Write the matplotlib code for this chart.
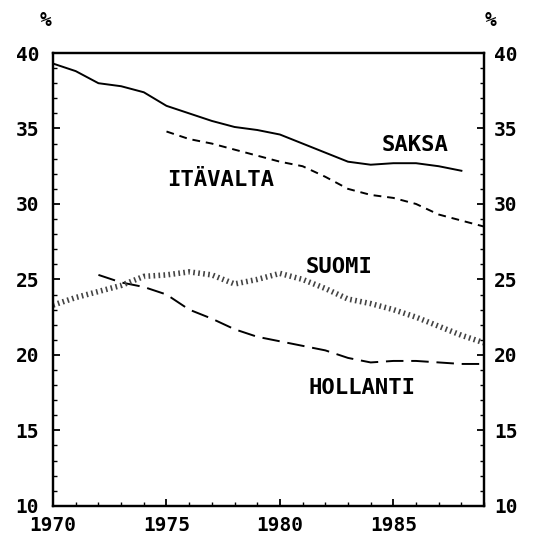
import matplotlib.pyplot as plt
from matplotlib.ticker import MultipleLocator

# Data (share, %)
saksa_years = list(range(1970, 1989))
saksa = [39.3, 38.8, 38.0, 37.8, 37.4, 36.5, 36.0, 35.5, 35.1, 34.9, 34.6,
         34.0, 33.4, 32.8, 32.6, 32.7, 32.7, 32.5, 32.2]

itavalta_years = list(range(1975, 1990))
itavalta = [34.8, 34.3, 34.0, 33.6, 33.2, 32.8, 32.5, 31.8, 31.0, 30.6,
            30.4, 30.0, 29.3, 28.9, 28.5]

suomi_years = list(range(1970, 1990))
suomi = [23.3, 23.8, 24.2, 24.6, 25.2, 25.3, 25.5, 25.3, 24.7, 25.0, 25.4,
         25.0, 24.4, 23.7, 23.4, 23.0, 22.5, 21.9, 21.3, 20.8]

hollanti_years = list(range(1972, 1990))
hollanti = [25.3, 24.8, 24.5, 24.0, 23.0, 22.4, 21.7, 21.2, 20.9, 20.6,
            20.3, 19.8, 19.5, 19.6, 19.6, 19.5, 19.4, 19.4]

labels = {'SAKSA': (1985.95, 33.9), 'ITÄVALTA': (1977.4, 31.6),
          'SUOMI': (1982.6, 25.8), 'HOLLANTI': (1983.6, 17.8)}

font = 'DejaVu Sans Mono'

fig = plt.figure(figsize=(5.47, 5.41), dpi=100)
ax = fig.add_axes([0.097, 0.065, 0.788, 0.837])
ax2 = ax.twinx()

ax.plot(saksa_years, saksa, color='black', lw=1.4)
ax.plot(itavalta_years, itavalta, color='black', lw=1.4, dashes=(4, 3))
ax.plot(hollanti_years, hollanti, color='black', lw=1.4, dashes=(9, 4))
ax.plot(suomi_years, suomi, color='#444444', lw=4, dashes=(0.3, 0.6))

for name, (x, y) in labels.items():
    ax.text(x, y, name, ha='center', va='center', fontsize=16,
            family=font, fontweight='bold')

ax.set_xlim(1970, 1989)
for a in (ax, ax2):
    a.set_ylim(10, 40)
    a.yaxis.set_major_locator(MultipleLocator(5))
    a.yaxis.set_minor_locator(MultipleLocator(1))
ax.xaxis.set_major_locator(MultipleLocator(5))
ax.xaxis.set_minor_locator(MultipleLocator(1))

ax.tick_params(which='both', direction='in', left=True, right=False,
               top=False, bottom=True, labelsize=14)
ax.tick_params(axis='y', which='major', pad=10)
ax.tick_params(axis='x', which='major', pad=7)
ax2.tick_params(which='both', direction='in', right=True, labelsize=14,
                pad=7)
for a in (ax, ax2):
    a.tick_params(which='major', length=5, width=1.3)
    a.tick_params(which='minor', length=3, width=1)
    for lab in a.get_xticklabels() + a.get_yticklabels():
        lab.set_family(font)
        lab.set_fontweight('bold')
    for sp in a.spines.values():
        sp.set_linewidth(1.6)

fig.text(0.083, 0.963, '%', ha='center', va='center', fontsize=14,
         family=font, fontweight='bold')
fig.text(0.897, 0.963, '%', ha='center', va='center', fontsize=14,
         family=font, fontweight='bold')

fig.savefig('out.png', dpi=100)
